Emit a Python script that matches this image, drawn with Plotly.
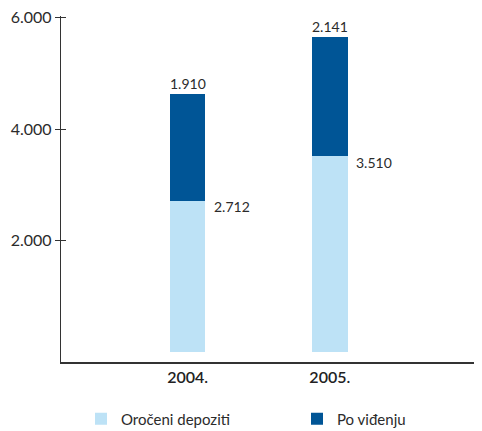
import plotly.graph_objects as go

years = ["2004.", "2005."]
orocheni = [2712, 3510]
po_videnju = [1910, 2141]
y_ticks = [2000, 4000, 6000]
y_tick_labels = ["2.000", "4.000", "6.000"]

LIGHT = "#bde2f6"
DARK = "#005596"
FONT = "Lato"
TXT = "#2b2b2b"

x = [0, 1]
bw = 0.25

# page body has an 8px margin; figure is sized/offset to fit the 482x431 window
W, H = 474, 423

def fmt(v):
    return f"{v:,}".replace(",", ".")

fig = go.Figure()
fig.add_bar(x=x, y=orocheni, width=bw, marker_color=LIGHT, marker_line_width=0,
            name="Oročeni depoziti", legend="legend")
fig.add_bar(x=x, y=po_videnju, width=bw, marker_color=DARK, marker_line_width=0,
            name="Po viđenju", legend="legend2")
fig.add_scatter(x=[0], y=[0], yaxis="y2", mode="markers", marker_opacity=0,
                showlegend=False, hoverinfo="skip")

ann = []
for i in range(len(x)):
    total = orocheni[i] + po_videnju[i]
    ann.append(dict(x=x[i], y=total, text=fmt(po_videnju[i]), showarrow=False,
                    yanchor="bottom", yshift=0, font=dict(size=14, color=TXT, family=FONT)))
    ann.append(dict(x=x[i], y=orocheni[i], text=fmt(orocheni[i]), showarrow=False,
                    xanchor="left", yanchor="middle", xshift=24, yshift=-6,
                    font=dict(size=14, color=TXT, family=FONT)))

fig.update_layout(
    width=W, height=H,
    barmode="stack",
    plot_bgcolor="white", paper_bgcolor="white",
    margin=dict(l=53, r=0, t=8, b=69, autoexpand=False),
    font=dict(family=FONT, size=14, color=TXT),
    xaxis=dict(range=[-0.89, 2.07], tickvals=x, ticktext=years, showgrid=False,
               zeroline=False, showline=True, linecolor="#333", linewidth=1.5,
               ticks="", automargin=False,
               tickfont=dict(size=16, family=FONT, color="#222", weight=600)),
    yaxis=dict(range=[-180, 6000 + 30], tickvals=y_ticks, ticktext=y_tick_labels,
               showgrid=False, zeroline=False, showline=True, linecolor="#333",
               linewidth=1.3, ticks="outside", ticklen=5, tickwidth=1.3, tickcolor="#333",
               automargin=False, ticklabeloverflow="allow",
               tickfont=dict(size=16, family=FONT, color=TXT)),
    yaxis2=dict(range=[-180, 6030], overlaying="y", side="left", tickvals=y_ticks,
                showticklabels=False, showgrid=False, zeroline=False, showline=False,
                automargin=False,
                ticks="inside", ticklen=5, tickwidth=1.3, tickcolor="#333"),
    legend=dict(orientation="h", xref="container", yref="container", x=73/W, y=12/H,
                xanchor="left", yanchor="middle", font=dict(size=15, family=FONT, color=TXT),
                bgcolor="rgba(0,0,0,0)"),
    legend2=dict(orientation="h", xref="container", yref="container", x=289/W, y=12/H,
                 xanchor="left", yanchor="middle", font=dict(size=15, family=FONT, color=TXT),
                 bgcolor="rgba(0,0,0,0)"),
    annotations=ann,
    showlegend=True,
)

fig.write_html("out.html")
